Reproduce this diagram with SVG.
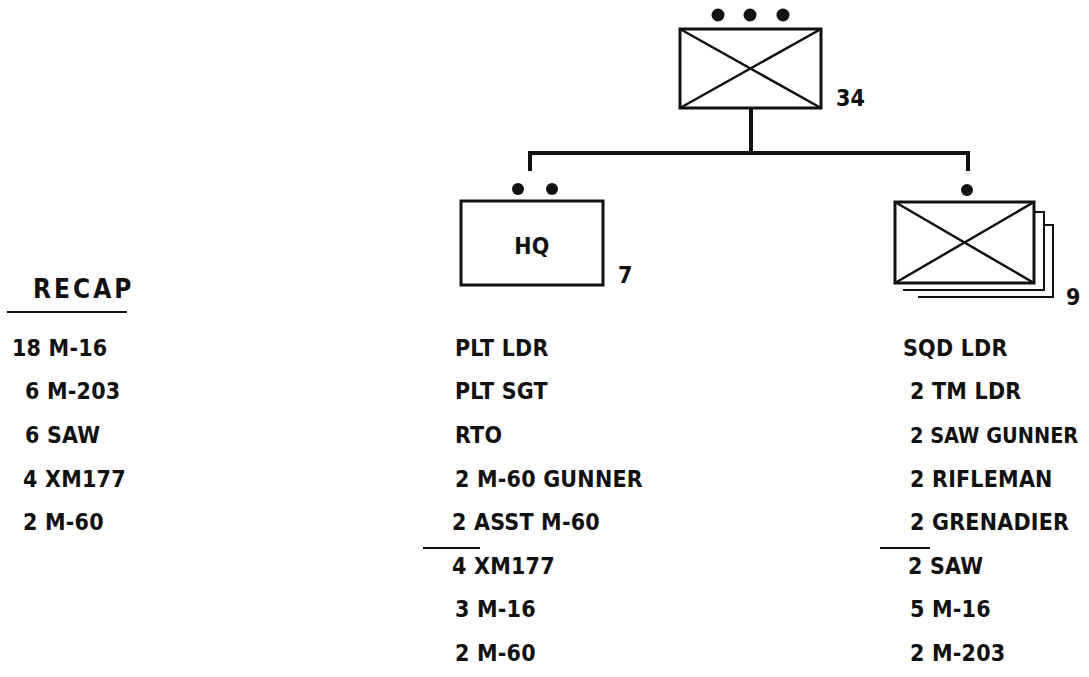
<svg xmlns="http://www.w3.org/2000/svg" width="1089" height="677" viewBox="0 0 1089 677">
<style>
.t{font-family:"DejaVu Sans Condensed","Liberation Sans Narrow","Liberation Sans",sans-serif;font-weight:bold;font-size:23px;fill:#111;letter-spacing:0.2px}
.big{font-size:26px;letter-spacing:3px}
.fit{font-size:21.5px;letter-spacing:0}
.box{fill:#fff;stroke:#111;stroke-width:3}
.x{stroke:#111;stroke-width:2.5}
.ln{stroke:#111;stroke-width:4;fill:none}
.thin{stroke:#111;stroke-width:2;fill:none}
.dot{fill:#111}
</style>
<rect width="1089" height="677" fill="#fff"/>
<g id="connectors">
<line class="ln" x1="751" y1="108" x2="751" y2="153"/>
<polyline class="ln" points="530,171 530,153 968,153 968,171"/>
</g>
<g id="platoon">
<circle class="dot" cx="718" cy="15" r="6.5"/>
<circle class="dot" cx="750" cy="15" r="6.5"/>
<circle class="dot" cx="783" cy="15" r="6.5"/>
<rect class="box" x="680" y="29" width="141" height="79"/>
<line class="x" x1="680" y1="29" x2="821" y2="108"/>
<line class="x" x1="680" y1="108" x2="821" y2="29"/>
<text class="t" x="836" y="106">34</text>
</g>
<g id="hq">
<circle class="dot" cx="518" cy="189" r="6"/>
<circle class="dot" cx="552" cy="189" r="6"/>
<rect class="box" x="461" y="201" width="142" height="84"/>
<text class="t" x="532" y="254" text-anchor="middle">HQ</text>
<text class="t" x="618" y="283">7</text>
</g>
<g id="squad">
<circle class="dot" cx="967" cy="190" r="6"/>
<rect x="918" y="225" width="135" height="72" fill="#fff"/>
<polyline class="thin" points="918,297 1053,297 1053,225 1044,225"/>
<rect x="903" y="212" width="141" height="78" fill="#fff"/>
<polyline class="thin" points="903,290 1044,290 1044,212 1034,212"/>
<rect class="box" x="895" y="202" width="139" height="81"/>
<line class="x" x1="895" y1="202" x2="1034" y2="283"/>
<line class="x" x1="895" y1="283" x2="1034" y2="202"/>
<text class="t" x="1066" y="305">9</text>
</g>
<g id="recap">
<text class="t big" x="33" y="298">RECAP</text>
<line class="thin" x1="7" y1="312" x2="127" y2="312"/>
<text class="t" x="12" y="356">18 M-16</text>
<text class="t" x="25" y="399">6 M-203</text>
<text class="t" x="25" y="443">6 SAW</text>
<text class="t" x="23" y="487">4 XM177</text>
<text class="t" x="23" y="530">2 M-60</text>
</g>
<g id="hq-list">
<text class="t" x="455" y="356">PLT LDR</text>
<text class="t" x="455" y="399">PLT SGT</text>
<text class="t" x="455" y="443">RTO</text>
<text class="t" x="455" y="487">2 M-60 GUNNER</text>
<text class="t" x="452" y="530">2 ASST M-60</text>
<line class="thin" x1="423" y1="548" x2="480" y2="548"/>
<text class="t" x="452" y="574">4 XM177</text>
<text class="t" x="455" y="617">3 M-16</text>
<text class="t" x="455" y="661">2 M-60</text>
</g>
<g id="squad-list">
<text class="t" x="903" y="356">SQD LDR</text>
<text class="t" x="910" y="399">2 TM LDR</text>
<text class="t fit" x="910" y="443">2 SAW GUNNER</text>
<text class="t" x="910" y="487">2 RIFLEMAN</text>
<text class="t" x="910" y="530">2 GRENADIER</text>
<line class="thin" x1="880" y1="548" x2="930" y2="548"/>
<text class="t" x="908" y="574">2 SAW</text>
<text class="t" x="910" y="617">5 M-16</text>
<text class="t" x="910" y="661">2 M-203</text>
</g>
</svg>
